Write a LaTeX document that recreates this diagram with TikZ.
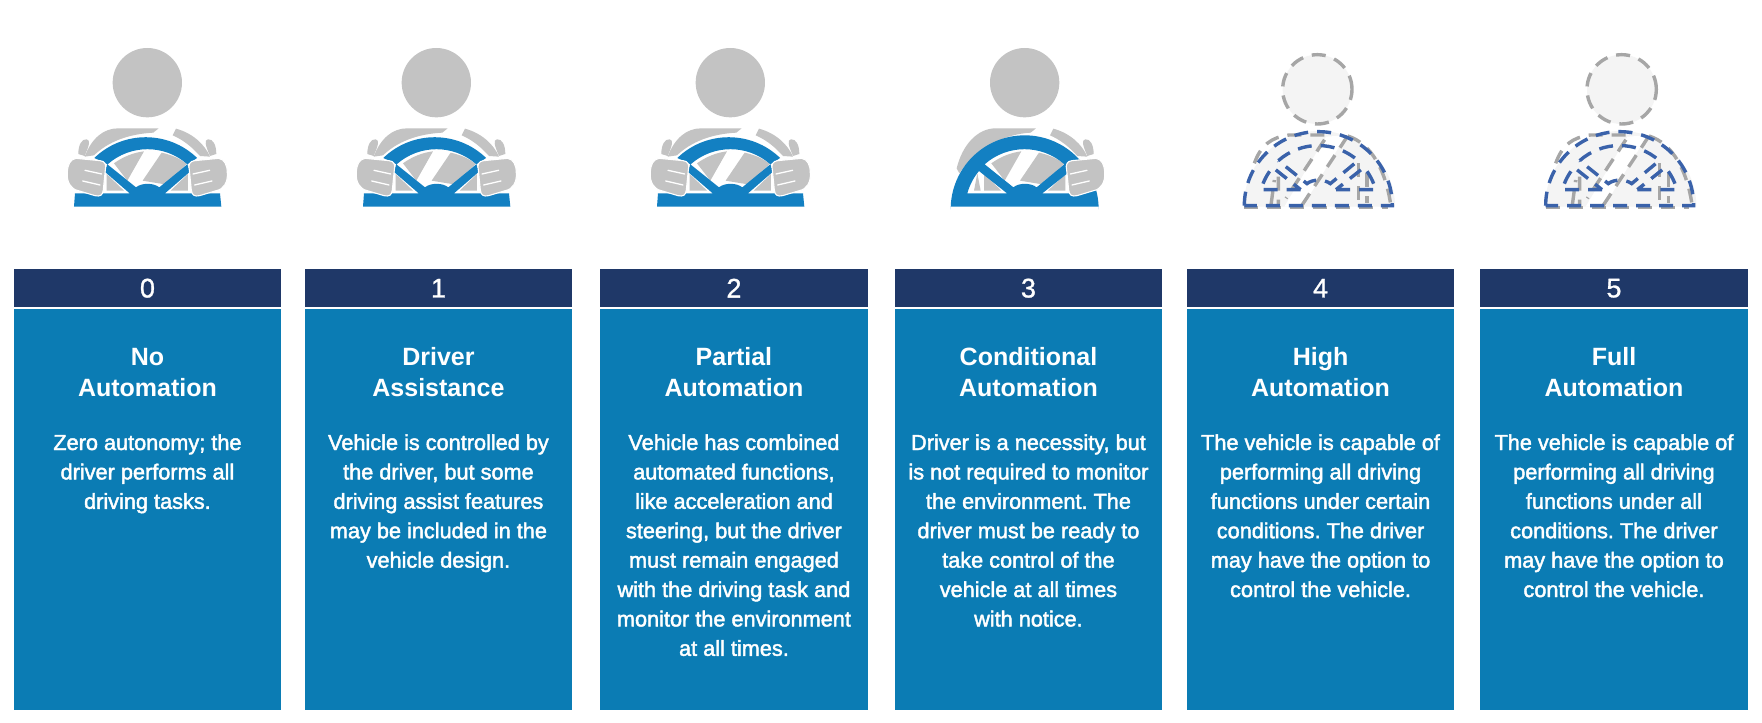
\documentclass[tikz,border=0pt]{standalone}
\usepackage{fontspec}
\setmainfont{Liberation Sans}
\newfontfamily\bodyfont[FakeBold=2]{Liberation Sans}
\newfontfamily\digitfont[FakeBold=1]{Liberation Sans}
\definecolor{navy}{HTML}{1F3868}
\definecolor{panel}{HTML}{0B7CB4}
\definecolor{wheelblue}{HTML}{1380C2}
\definecolor{figgray}{HTML}{C3C3C3}
\definecolor{dashgray}{HTML}{A6A6A6}
\definecolor{dashblue}{HTML}{3A62AA}
\definecolor{ghost}{HTML}{F4F4F4}
\tikzset{
  hdrbox/.style={fill=navy,draw=none,minimum width=267.5pt,minimum height=38pt,inner sep=0pt,text=white,font=\digitfont\fontsize{27}{30}\selectfont},
  panelbox/.style={fill=panel,draw=none,minimum width=267.5pt,minimum height=400.5pt,inner sep=0pt},
  titletext/.style={anchor=north,inner sep=0pt,align=center,text=white,font=\fontsize{25}{31}\selectfont\bfseries},
  bodytext/.style={anchor=north,inner sep=0pt,align=center,text=white,font=\bodyfont\fontsize{21.7}{29.4}\selectfont},
  fig/.style={fill=figgray,draw=white,line width=1.1pt},
  gdash/.style={draw=dashgray,line width=3.4pt,dash pattern=on 14pt off 9pt},
  bdash/.style={draw=dashblue,line width=3.4pt,dash pattern=on 14pt off 9pt},
  iconunits/.style={x=0.3333pt,y=0.3333pt},
}
% driver's body parts, drawn in units of a third of a pixel
\newcommand{\shoulderL}{(104,-380) .. controls (125,-325) and (160,-295) .. (205,-295) -- (326,-295) -- (310,-308) .. controls (235,-312) and (175,-335) .. (132,-376) -- cycle}
\newcommand{\shoulderR}{(378,-296) .. controls (430,-310) and (465,-345) .. (480,-380) -- (450,-378) .. controls (425,-350) and (400,-330) .. (368,-316) -- cycle}
\newcommand{\tabL}{(85,-372) .. controls (85,-345) and (95,-326) .. (110,-328) .. controls (122,-330) and (118,-345) .. (104,-378) -- cycle}
\newcommand{\tabR}{(499,-372) .. controls (499,-345) and (489,-326) .. (474,-328) .. controls (462,-330) and (466,-345) .. (480,-378) -- cycle}
\newcommand{\chest}{
  (192,-400) .. controls (220,-380) and (250,-368) .. (282,-364) -- (232,-452) -- cycle
  (335,-368) .. controls (365,-375) and (390,-385) .. (410,-402) -- (345,-463) -- (326,-460) -- (278,-452) -- cycle
  (170,-432) -- (170,-482) -- (222,-482) -- cycle
  (414,-432) -- (414,-482) -- (362,-482) -- cycle
}
\newcommand{\handL}{(78,-385) -- (150,-392) .. controls (165,-393) and (170,-405) .. (166,-420) -- (160,-480) .. controls (158,-497) and (150,-500) .. (135,-497) -- (85,-482) .. controls (62,-478) and (50,-455) .. (52,-430) .. controls (52,-405) and (60,-388) .. (78,-385) -- cycle}
\newcommand{\handR}{(506,-385) -- (434,-392) .. controls (419,-393) and (414,-405) .. (418,-420) -- (424,-480) .. controls (426,-497) and (434,-500) .. (449,-497) -- (499,-482) .. controls (522,-478) and (534,-455) .. (532,-430) .. controls (532,-405) and (524,-388) .. (506,-385) -- cycle}
\newcommand{\fingersL}{(105,-421) -- (155,-432) (98,-453) -- (150,-465)}
\newcommand{\fingersR}{(479,-421) -- (429,-432) (486,-453) -- (434,-465)}
% wheel with both hands on it: ring ends behind the hands
\newcommand{\wheelShort}{
  (72,-530) -- (514,-530) -- (510,-490) -- (345,-490) -- (420,-425) -- (412,-403) -- (328,-472) .. controls (310,-458) and (275,-458) .. (258,-472) -- (172,-403) -- (164,-425) -- (239,-490) -- (75,-490) -- cycle
  (133,-384) arc[start angle=134,end angle=46,radius=222] -- (412,-403) arc[start angle=48.4,end angle=131.6,radius=180] -- cycle
}
% outline of the full half-round wheel
\newcommand{\wheelFull}[1]{
  ({#1+70},-538) arc[start angle=180,end angle=0,radius=222] -- cycle
  ({#1+172},-403) arc[start angle=131.6,end angle=48.4,radius=180] -- ({#1+328},-472) .. controls ({#1+310},-458) and ({#1+275},-458) .. ({#1+258},-472) -- cycle
  ({#1+239},-490) -- ({#1+120},-490) arc[start angle=164.5,end angle=140.3,radius=180] -- cycle
  ({#1+345},-490) -- ({#1+464},-490) arc[start angle=15.5,end angle=39.7,radius=180] -- cycle
}
\newcommand{\wheelHalf}{
  (70,-530) -- (70,-538) arc[start angle=180,end angle=0,radius=222] -- (514,-530) -- cycle
  (172,-403) arc[start angle=131.6,end angle=48.4,radius=180] -- (328,-472) .. controls (310,-458) and (275,-458) .. (258,-472) -- cycle
  (239,-490) -- (120,-490) arc[start angle=164.5,end angle=140.3,radius=180] -- cycle
  (345,-490) -- (464,-490) arc[start angle=15.5,end angle=39.7,radius=180] -- cycle
}
\newcommand{\driverBoth}[1]{
  \begin{scope}[iconunits,shift={(#1,-30pt)}]
    \fill[figgray] (292,-158) circle[radius=104];
    \fill[figgray] \shoulderL; \fill[figgray] \shoulderR; \fill[figgray] \tabL; \fill[figgray] \tabR;
    \fill[figgray] \chest;
    \fill[wheelblue] \wheelShort;
    \path[fig] \handL; \path[fig] \handR;
    \draw[white,line width=1.3pt,line cap=round] \fingersL;
    \draw[white,line width=1.3pt,line cap=round] \fingersR;
  \end{scope}
}
\newcommand{\driverGhost}[2]{
  \begin{scope}[iconunits,shift={(#1,-30pt)}]
    \fill[ghost] (292,-178) circle[radius=104];
    \draw[gdash] (292,-178) circle[radius=104];
    \fill[ghost] ({#2+68},-530) arc[start angle=180,end angle=0,radius=227] -- cycle;
    \fill[white] ({#2+315},-320) -- ({#2+375},-316) -- ({#2+245},-530) -- ({#2+190},-530) -- cycle;
    \begin{scope}[xshift=#2*0.3333pt]
      \draw[gdash] (70,-533) -- (500,-533);
      \draw[gdash] (100,-400) .. controls (120,-345) and (150,-322) .. (205,-315) -- (320,-315) -- (195,-505);
      \draw[gdash] (380,-318) -- (240,-530);
      \draw[gdash] (380,-318) .. controls (450,-340) and (495,-420) .. (510,-530);
      \draw[gdash] (172,-440) -- (172,-530) (150,-525) -- (160,-450);
      \draw[gdash] (412,-400) -- (412,-530) (438,-430) -- (438,-520);
    \end{scope}
    \begin{scope}[yshift=3.67pt]
      \draw[bdash] \wheelFull{#2};
    \end{scope}
  \end{scope}
}
\newcommand{\level}[5]{% name, left x, number, title, body
  \node[hdrbox,anchor=north west] (h#1) at (#2,-269) {#3};
  \node[panelbox,anchor=north west] (p#1) at (#2,-309) {};
  \node[titletext] (t#1) at ([yshift=-38.5pt]p#1.north) {\rule{0pt}{18pt}#4};
  \node[bodytext] (d#1) at ([yshift=-122.8pt]p#1.north) {\rule{0pt}{18pt}#5};
}
\frenchspacing
\begin{document}
\begin{tikzpicture}[x=1pt,y=1pt]
\useasboundingbox (0,0) rectangle (1762,-723);
\fill[white] (0,0) rectangle (1762,-723);
\level{0}{13.5}{0}{No\\Automation}{Zero autonomy; the\\driver performs all\\driving tasks.}
\level{1}{304.5}{1}{Driver\\Assistance}{Vehicle is controlled by\\the driver, but some\\driving assist features\\may be included in the\\vehicle design.}
\level{2}{600}{2}{Partial\\Automation}{Vehicle has combined\\automated functions,\\like acceleration and\\steering, but the driver\\must remain engaged\\with the driving task and\\monitor the environment\\at all times.}
\level{3}{894.5}{3}{Conditional\\Automation}{Driver is a necessity, but\\is not required to monitor\\the environment. The\\driver must be ready to\\take control of the\\vehicle at all times\\with notice.}
\level{4}{1186.6}{4}{High\\Automation}{The vehicle is capable of\\performing all driving\\functions under certain\\conditions. The driver\\may have the option to\\control the vehicle.}
\level{5}{1480}{5}{Full\\Automation}{The vehicle is capable of\\performing all driving\\functions under all\\conditions. The driver\\may have the option to\\control the vehicle.}
\driverBoth{50pt}
\driverBoth{339pt}
\driverBoth{633pt}
% level 3: left hand off the wheel
\begin{scope}[iconunits,shift={(930pt,-30pt)}]
  \fill[figgray] (284,-158) circle[radius=104];
  \begin{scope}[xshift=-2.667pt]
    \fill[figgray] (88,-415) .. controls (105,-345) and (150,-295) .. (205,-295) -- (326,-295) -- (310,-308) .. controls (235,-312) and (150,-350) .. (96,-430) -- cycle;
    \fill[figgray] \shoulderR; \fill[figgray] \tabR;
    \fill[figgray] \chest;
    \fill[figgray] (150,-430) -- (140,-482) -- (160,-482) -- cycle;
    \fill[wheelblue,even odd rule] \wheelHalf;
    \path[fig] \handR;
    \draw[white,line width=1.3pt,line cap=round] \fingersR;
  \end{scope}
\end{scope}
\driverGhost{1220pt}{3}
\driverGhost{1524.33pt}{-6}
\end{tikzpicture}
\end{document}
